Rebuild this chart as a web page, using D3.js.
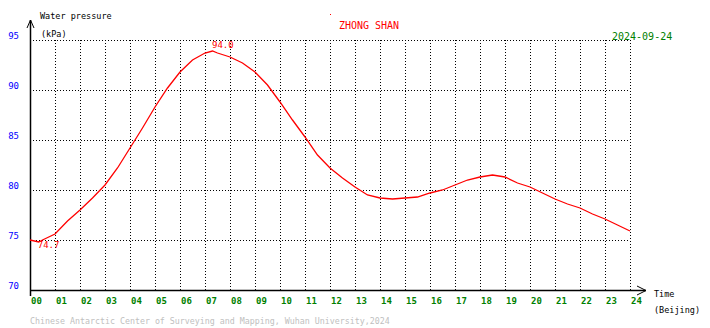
<!DOCTYPE html>
<html>
<head>
<meta charset="utf-8">
<script src="https://cdn.jsdelivr.net/npm/d3@7"></script>
<style>
    body { margin: 0; background: #fff; }
    text { font-family: "DejaVu Sans Mono", monospace; }
</style>
</head>
<body>
<div id="chart"></div>
<script>
// water pressure readings (kPa) by hour of day
var hours = [0, 0.35, 0.5, 0.75, 1, 1.5, 2, 2.5, 3, 3.5, 4, 4.5, 5, 5.5, 6, 6.5, 7, 7.3, 7.5, 8,
    8.5, 9, 9.5, 10, 10.5, 11, 11.5, 12, 12.5, 13, 13.5, 14, 14.5, 15, 15.5, 16, 16.5, 17,
    17.5, 18, 18.5, 19, 19.5, 20, 20.5, 21, 21.5, 22, 22.5, 23, 23.5, 24];
var pressure = [75.0, 74.8, 75.0, 75.3, 75.6, 76.9, 78.0, 79.2, 80.5, 82.2, 84.2, 86.2, 88.3, 90.2, 91.8, 93.0, 93.7, 93.9, 93.7, 93.3,
    92.7, 91.8, 90.5, 88.8, 87.0, 85.3, 83.5, 82.2, 81.2, 80.3, 79.5, 79.2, 79.1, 79.2, 79.3, 79.7, 80.0, 80.5,
    81.0, 81.3, 81.5, 81.3, 80.7, 80.3, 79.7, 79.1, 78.6, 78.2, 77.6, 77.1, 76.5, 75.9];

var yTicks = [70, 75, 80, 85, 90, 95];
var xTicks = d3.range(0, 25);
var xTickLabels = xTicks.map(function (d) { return d < 10 ? "0" + d : "" + d; });

var maxLabel = "94.0";
var minLabel = "74.7";
var stationName = "ZHONG SHAN";
var dateLabel = "2024-09-24";

var width = 710, height = 328;

var xScale = d3.scaleLinear().domain([0, 24]).range([30, 630]);
var yScale = d3.scaleLinear().domain([70, 95]).range([290, 40]);

var svg = d3.select("#chart").append("svg")
    .attr("width", width)
    .attr("height", height);

// dotted grid
svg.append("g").selectAll("line")
    .data(yTicks.filter(function (d) { return d > 70; }))
    .enter().append("line")
    .attr("x1", xScale(0)).attr("x2", xScale(24))
    .attr("y1", function (d) { return yScale(d) + 0.5; })
    .attr("y2", function (d) { return yScale(d) + 0.5; })
    .attr("stroke", "#000")
    .attr("stroke-dasharray", "1,2");

svg.append("g").selectAll("line")
    .data(xTicks.filter(function (d) { return d > 0; }))
    .enter().append("line")
    .attr("x1", function (d) { return xScale(d) + 0.5; })
    .attr("x2", function (d) { return xScale(d) + 0.5; })
    .attr("y1", yScale(95)).attr("y2", yScale(70))
    .attr("stroke", "#000")
    .attr("stroke-dasharray", "1,2");

// axes with arrows
var axes = svg.append("g").attr("stroke", "#000").attr("fill", "none");
axes.append("line").attr("x1", 30.5).attr("x2", 30.5).attr("y1", 20).attr("y2", 296).attr("stroke-width", 1.5);
axes.append("path").attr("d", "M27,28L30.5,20L34,28").attr("stroke-width", 1);
axes.append("line").attr("x1", 30).attr("x2", 646).attr("y1", 290.5).attr("y2", 290.5).attr("stroke-width", 1.5);
axes.append("path").attr("d", "M637,286L646,290.5L637,295").attr("stroke-width", 1);

// y tick labels
svg.append("g").selectAll("text")
    .data(yTicks)
    .enter().append("text")
    .attr("x", 19)
    .attr("y", function (d) { return yScale(d) - 1; })
    .attr("text-anchor", "end")
    .attr("font-size", "9px")
    .attr("fill", "#0000ff")
    .text(function (d) { return d; });

// x tick labels
svg.append("g").selectAll("text")
    .data(xTicks)
    .enter().append("text")
    .attr("x", function (d) { return xScale(d) + 1; })
    .attr("y", 304)
    .attr("font-size", "9px")
    .attr("font-weight", "bold")
    .attr("fill", "#008000")
    .text(function (d, i) { return xTickLabels[i]; });

var lineFunction = d3.line()
    .x(function (d, i) { return xScale(hours[i]); })
    .y(function (d) { return yScale(d); });

svg.append("path")
    .datum(pressure)
    .attr("d", lineFunction)
    .attr("fill", "none")
    .attr("stroke", "#ff0000")
    .attr("stroke-width", 1.3);

// max / min annotations
var iMax = pressure.indexOf(d3.max(pressure));
var iMin = pressure.indexOf(d3.min(pressure));
svg.append("text")
    .attr("x", xScale(hours[iMax]) - 0.5)
    .attr("y", 48)
    .attr("font-size", "9px")
    .attr("fill", "#ff0000")
    .text(maxLabel);
svg.append("text")
    .attr("x", xScale(hours[iMin]) - 1)
    .attr("y", 248)
    .attr("font-size", "9px")
    .attr("fill", "#ff0000")
    .text(minLabel);

// texts
svg.append("text").attr("x", 40).attr("y", 19).attr("font-size", "8.5px").attr("fill", "#000").text("Water pressure");
svg.append("text").attr("x", 41).attr("y", 37).attr("font-size", "8.5px").attr("fill", "#000").text("(kPa)");
svg.append("text").attr("x", 654).attr("y", 297).attr("font-size", "8.5px").attr("fill", "#000").text("Time");
svg.append("text").attr("x", 654).attr("y", 313).attr("font-size", "8.5px").attr("fill", "#000").text("(Beijing)");

svg.append("rect").attr("x", 330).attr("y", 14).attr("width", 1).attr("height", 1).attr("fill", "#ff0000");
svg.append("text").attr("x", 369).attr("y", 29).attr("text-anchor", "middle")
    .attr("font-size", "10px").attr("fill", "#ff0000").text(stationName);
svg.append("text").attr("x", 612).attr("y", 40)
    .attr("font-size", "10px").attr("fill", "#008000").text(dateLabel);

svg.append("text").attr("x", 30).attr("y", 324)
    .attr("font-size", "8.3px").attr("fill", "#c0c0c0")
    .text("Chinese Antarctic Center of Surveying and Mapping, Wuhan University,2024");
</script>
</body>
</html>
